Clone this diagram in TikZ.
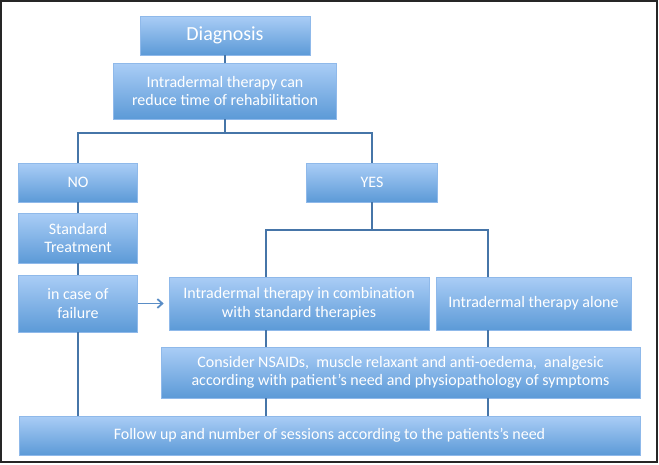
\documentclass[tikz,border=0pt]{standalone}
\usepackage{fontspec}
\setmainfont{Carlito}
\usepackage{tikz}
\usetikzlibrary{arrows.meta, positioning}

\definecolor{boxtop}{HTML}{AACDF6}
\definecolor{boxbot}{HTML}{5C9AD7}
\definecolor{boxline}{HTML}{8FB9EA}
\definecolor{linkcol}{HTML}{4675A8}
\definecolor{arrowcol}{HTML}{5A8DC6}

\begin{document}
\begin{tikzpicture}[x=1pt, y=-1pt,
  box/.style={rectangle, draw=boxline, line width=0.6pt, top color=boxtop, bottom color=boxbot,
    text=white, align=center, inner sep=2pt, font=\fontsize{16}{18.5}\selectfont},
  link/.style={draw=linkcol, line width=1.8pt},
  e/.style={-{Straight Barb[length=5pt, width=9pt]}, draw=arrowcol, line width=1.8pt}]
  \useasboundingbox (0,0) rectangle (659,464);
  \draw[line width=1.5pt, draw=black!85] (1,1) rectangle (657,462);

  % top of the chart
  \node[box, minimum width=170, minimum height=39, font=\fontsize{20}{24}\selectfont] (diag) at (225,35.5) {Diagnosis};
  \node[box, minimum width=223, minimum height=56] (reduce) at (225,91) {Intradermal therapy can\\reduce time of rehabilitation};

  % left branch
  \node[box, minimum width=119, minimum height=39] (no)   at (78,182.5) {NO};
  \node[box, minimum width=119, minimum height=50] (std)  at (78,238)   {Standard\\Treatment};
  \node[box, minimum width=119, minimum height=57] (fail) at (78,303.5) {in case of\\failure};

  % right branch
  \node[box, minimum width=131, minimum height=39] (yes)   at (372,182.5) {YES};
  \node[box, minimum width=260, minimum height=53] (combi) at (299,303.5) {Intradermal therapy in combination\\with standard therapies};
  \node[box, minimum width=195, minimum height=53] (alone) at (533.5,303.5) {Intradermal therapy alone};
  \node[box, minimum width=479, minimum height=51] (drugs) at (400.5,372.5) {Consider NSAIDs,\ \ muscle relaxant and anti-oedema,\ \ analgesic\\according with patient’s need and physiopathology of symptoms};
  \node[box, minimum width=621, minimum height=39] (follow) at (329.5,435.5) {Follow up and number of sessions according to the patients’s need};

  \coordinate (b1) at (225,133);
  \coordinate (b2) at (372,230);
  \coordinate (c1) at (266,230);
  \coordinate (c2) at (488,230);

  \draw[link] (diag) -- (reduce);
  \draw[link] (reduce) -- (b1);
  \draw[link] (no.north) |- (b1) -| (yes.north);
  \draw[link] (no) -- (std);
  \draw[link] (std) -- (fail);
  \draw[link] (fail) -- (fail |- follow.north);
  \draw[link] (yes) -- (b2);
  \draw[link] (c1 |- combi.north) -- (c1) -- (c2) -- (c2 |- alone.north);
  \draw[link] (c1 |- combi.south) -- (c1 |- drugs.north);
  \draw[link] (c2 |- alone.south) -- (c2 |- drugs.north);
  \draw[link] (c1 |- drugs.south) -- (c1 |- follow.north);
  \draw[link] (c2 |- drugs.south) -- (c2 |- follow.north);
  \draw[e, shorten >=5pt] (fail) -- (combi);
\end{tikzpicture}
\end{document}
